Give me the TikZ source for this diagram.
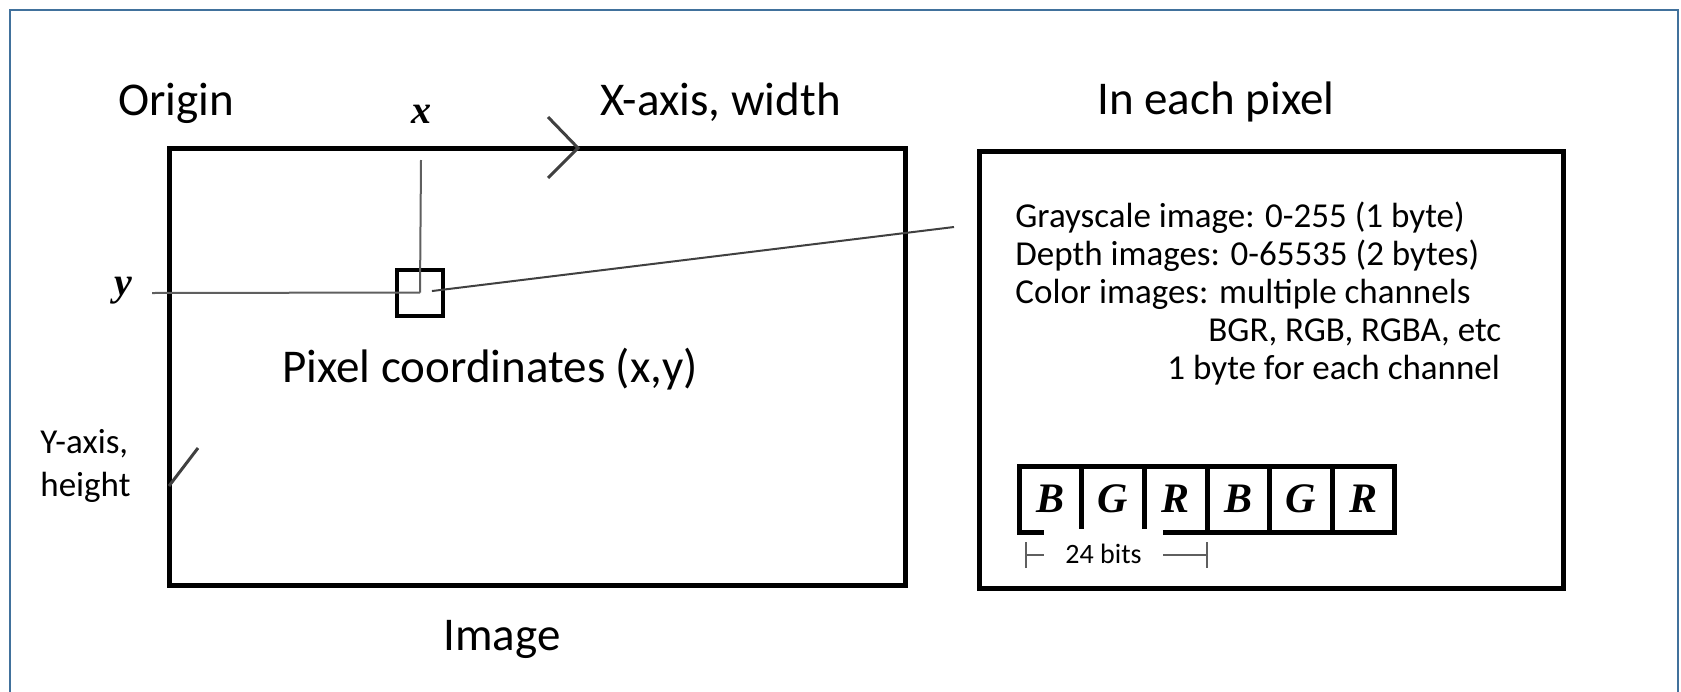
\documentclass[tikz,border=0pt]{standalone}
\usepackage{fontspec}
\setmainfont{Carlito}
\newfontfamily\serifit{Liberation Serif}
\usetikzlibrary{arrows.meta, positioning}

\definecolor{frameblue}{RGB}{65,113,156}
\definecolor{axisgray}{RGB}{95,95,95}

\begin{document}
\begin{tikzpicture}[x=0.5pt, y=-0.5pt, node distance=31.3pt, on grid,
        big/.style={font=\fontsize{23.5}{28}\selectfont, inner sep=0pt, anchor=base west},
        small/.style={font=\fontsize{17.5}{20}\selectfont, inner sep=0pt, anchor=base west},
        letter/.style={font=\serifit\bfseries\itshape\fontsize{21}{25}\selectfont},
        axislabel/.style={font=\serifit\bfseries\itshape\fontsize{20}{24}\selectfont},
        cell/.style={draw, line width=2.5pt, minimum width=31.3pt, minimum height=33pt, inner sep=0pt, letter},
        thin/.style={axisgray, line width=1pt}]
                \useasboundingbox (0,0) rectangle (1681,691);
                \draw[frameblue, line width=1.3pt] (10,720) -- (10,10) -- (1678,10) -- (1678,720);
                \node[big] (origin) at (118,115) {Origin};
                \node[big] (xaxis) at (600,115) {X-axis, width};
                \node[big] (title) at (1097,114) {In each pixel};
                \node[draw, line width=2.5pt, minimum width=368pt, minimum height=218.5pt] (img) at (537,366.5) {};
                \node[big] (imgname) at (443,650) {Image};
                \node[draw, line width=2pt, minimum size=23pt] (pix) at (420,292.5) {};
                \node[big] (coords) at (282,382) {Pixel coordinates (x,y)};
                \node[axislabel] (xlab) at (421,114) {x};
                \node[axislabel] (ylab) at (123,291) {y};
                \node[small] (yaxis) at (40,453) {Y-axis,};
                \node[small] (yheight) at (40,496) {height};
                \coordinate (xtop) at (421,160);
                \coordinate (yleft) at (152,293);
                \coordinate (zoomend) at (954,227);
                \coordinate (xtip) at (578,148);
                \coordinate (ytip) at (169,486);
                \draw[thin] (xtop) -- (pix.center);
                \draw[thin] (yleft) -- (pix.center);
                \draw[thin, black!75, shorten <=6pt] (pix.center) -- (zoomend);
                \draw[black!75, line width=1.5pt] (xtip) ++(-30,-31) -- (xtip) -- ++(-30,30);
                \draw[black!75, line width=1.5pt] (ytip) -- ++(29,-38);
                \node[draw, line width=2.5pt, minimum width=292pt, minimum height=218.5pt] (info) at (1271,369.5) {};
                \node[small] (gray) at (1015,227) {Grayscale image: 0-255 (1 byte)};
                \node[small] (depth) at (1015,265) {Depth images: 0-65535 (2 bytes)};
                \node[small] (color) at (1015,303) {Color images: multiple channels};
                \node[small] (order) at (1208,341) {BGR, RGB, RGBA, etc};
                \node[small] (perbyte) at (1167,379) {1 byte for each channel};
                \node[cell] (b1) at (1050.5,499) {B};
                \node[cell, right=of b1] (g1) {G};
                \node[cell, right=of g1] (r1) {R};
                \node[cell, right=of r1] (b2) {B};
                \node[cell, right=of b2] (g2) {G};
                \node[cell, right=of g2] (r2) {R};
                \coordinate (bitl) at (1025,555);
                \coordinate (bitr) at (1208,555);
                \draw[thin, {Bar[width=13pt]}-{Bar[width=13pt]}] (bitl) -- (bitr);
                \node[fill=white, inner sep=0pt, minimum width=59.5pt, minimum height=25pt,
                        font=\fontsize{14}{16}\selectfont] (bits) at (1103.5,554) {24 bits};
        \end{tikzpicture}
\end{document}
